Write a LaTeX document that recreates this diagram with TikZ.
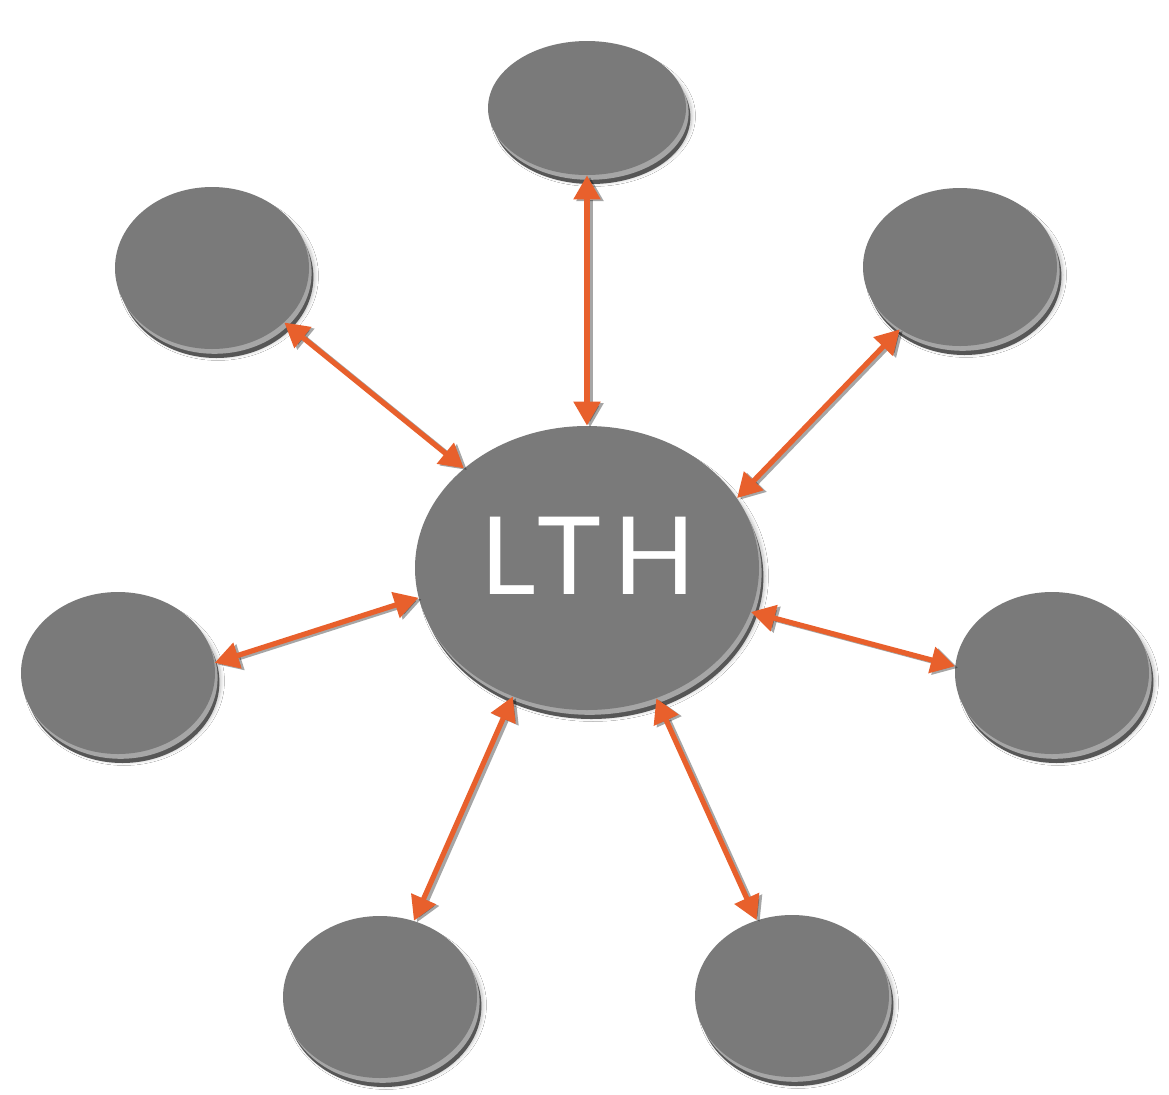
\documentclass[tikz,border=0pt]{standalone}
\usepackage{fontspec}
\setsansfont{Lato}
\usetikzlibrary{arrows.meta,shapes.geometric,shadows.blur}

\definecolor{discgray}{HTML}{7A7A7A}
\definecolor{rimgray}{HTML}{565656}
\definecolor{rimlight}{HTML}{A6A6A6}
\definecolor{linkorange}{HTML}{E8602C}

\tikzset{
	disc/.style={ellipse, fill=discgray, inner sep=0pt,
		minimum width=97pt, minimum height=81pt,
		blur shadow={shadow xshift=3pt, shadow yshift=-4pt, shadow opacity=25, shadow blur steps=8},
		general shadow={fill=rimgray, shadow xshift=2.2pt, shadow yshift=-4.5pt},
		general shadow={fill=rimlight, shadow xshift=1.3pt, shadow yshift=-2.4pt}},
	link/.style={line width=2.6pt, draw=linkorange, {Triangle[length=12pt,width=13pt]}-{Triangle[length=12pt,width=13pt]}},
	linkshadow/.style={line width=2.6pt, draw=black, opacity=0.35, transform canvas={shift={(1.5pt,-0.8pt)}},
		{Triangle[length=12pt,width=13pt]}-{Triangle[length=12pt,width=13pt]}}
}

\begin{document}
\begin{tikzpicture}[x=0.5pt, y=-0.5pt]
		
		\useasboundingbox (0,0) rectangle (1169,1094);
		\fill[white] (0,0) rectangle (1169,1094);
		
		% Hub
		\node[disc, minimum width=172pt, minimum height=142pt] (hub) at (587,568) {};
		\node[text=white, font=\sffamily\fontsize{54}{60}\selectfont\addfontfeatures{LetterSpace=11}] (lth) at (588,556) {LTH};
		
		% Outer discs
		\node[disc, minimum width=99pt, minimum height=67pt] (top) at (587,108) {};
		\node[disc] (ul) at (212,268) {};
		\node[disc, minimum height=79pt] (ur) at (960,267) {};
		\node[disc] (left) at (118,673) {};
		\node[disc] (right) at (1052,673) {};
		\node[disc] (bl) at (380,997) {};
		\node[disc] (br) at (792,996) {};
		
		% Arrow shadows
		\draw[linkshadow] (top.270) -- (hub.90);
		\draw[linkshadow] (ul.323) -- (hub.141);
		\draw[linkshadow] (ur.226) -- (hub.25);
		\draw[linkshadow] (left.6) -- (hub.190);
		\draw[linkshadow] (right.176) -- (hub.345);
		\draw[linkshadow] (bl.66) -- (hub.240);
		\draw[linkshadow] (br.115) -- (hub.298);
		
		% Arrows
		\draw[link] (top.270) -- (hub.90);
		\draw[link] (ul.323) -- (hub.141);
		\draw[link] (ur.226) -- (hub.25);
		\draw[link] (left.6) -- (hub.190);
		\draw[link] (right.176) -- (hub.345);
		\draw[link] (bl.66) -- (hub.240);
		\draw[link] (br.115) -- (hub.298);
		
	\end{tikzpicture}
\end{document}
